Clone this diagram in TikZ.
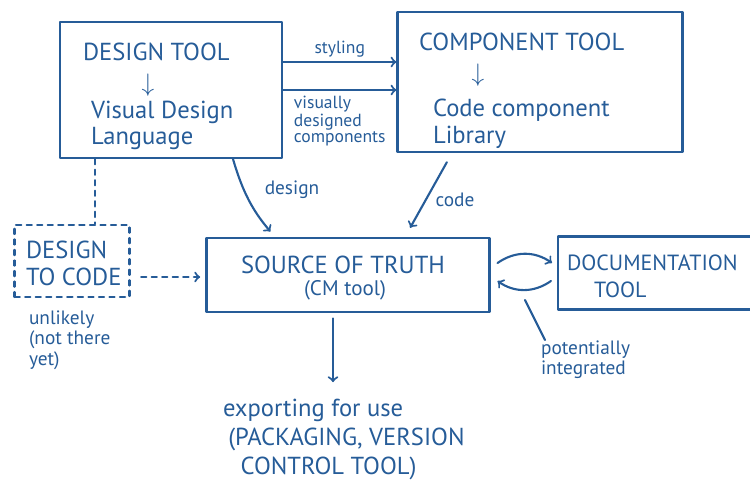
\documentclass[tikz,border=0pt]{standalone}
\usepackage{fontspec}
\setmainfont{PT Sans}
\usetikzlibrary{positioning}
\definecolor{ink}{RGB}{38,92,152}
\begin{document}
\begin{tikzpicture}[x=0.02cm, y=-0.02cm, line join=round, line cap=round, >=to, color=ink, very thick,
		font=\fontsize{14}{16}\selectfont,
		box/.style={draw, inner sep=0pt},
		txt/.style={anchor=west, inner sep=0pt},
		note/.style={font=\fontsize{10}{9}\selectfont, align=left, inner sep=0pt}]
	\useasboundingbox (0,0) rectangle (750,487);
	% boxes
	\node[box, minimum width=4.44cm, minimum height=2.72cm] (design) at (171,90) {};
	\node[box, minimum width=5.7cm, minimum height=2.8cm] (comp) at (540,82) {};
	\node[box, minimum width=5.66cm, minimum height=1.48cm] (source) at (348,275) {};
	\node[box, minimum width=3.94cm, minimum height=1.46cm] (doc) at (656.5,273) {};
	\node[box, dashed, minimum width=2.3cm, minimum height=1.44cm] (dtc) at (72,261) {};
	% texts in the boxes
	\node[txt] (dt) at (82,52) {DESIGN TOOL};
	\node[inner sep=0pt] (da) at (148,85) {$\downarrow$};
	\node[txt] (vdl) at (90,112) {Visual Design};
	\node[txt] (lang) at (90,138) {Language};
	\node[txt] (ct) at (418,42) {COMPONENT TOOL};
	\node[inner sep=0pt] (ca) at (478,75) {$\downarrow$};
	\node[txt] (ccl) at (432,110) {Code component};
	\node[txt] (lib) at (432,137) {Library};
	\node (sot) at (343,265) {SOURCE OF TRUTH};
	\node[font=\fontsize{12}{14}\selectfont] (cm) at (345,290) {(CM tool)};
	\node[txt, font=\fontsize{12.5}{14}\selectfont] (dct) at (566,263) {DOCUMENTATION};
	\node[txt, font=\fontsize{12.5}{14}\selectfont] (tl) at (593,290) {TOOL};
	\node[txt] (d2c) at (25,250) {DESIGN};
	\node[txt] (d2c2) at (25,277) {TO CODE};
	\node[note, anchor=north west, font=\fontsize{11}{11.5}\selectfont] (unl) at (28,310) {unlikely\\(not there\\yet)};
	\node[anchor=north west, align=left, inner sep=0pt, font=\fontsize{14}{16.5}\selectfont] (export) at (222,398)
		{exporting for use\\\hspace{3pt}(PACKAGING, VERSION\\\hspace{10pt}CONTROL TOOL)};
	\node[note, anchor=north west, font=\fontsize{11}{11}\selectfont] (pot) at (540,340) {potentially\\integrated};
	% connectors
	\draw[->] (design.east |- 0,62) -- (comp.west |- 0,62) node[midway, above=2pt, note]{styling};
	\draw[->] (design.east |- 0,90) -- (comp.west |- 0,90) node[midway, below=3pt, note]{visually\\designed\\components};
	\draw[->, shorten >=4pt] (design.south -| 233,0) to[bend right=12] (source.north -| 275,0);
	\node[font=\fontsize{11}{12}\selectfont] (dlab) at (292,190) {design};
	\draw[->, shorten >=6pt, shorten <=6pt] (comp.south -| 452,0) -- (source.north -| 405,0);
	\node[font=\fontsize{11}{12}\selectfont] (clab) at (455,200) {code};
	\draw[dashed] (design.south -| 95,0) -- (dtc.north -| 95,0);
	\draw[->, dashed, shorten <=6pt, shorten >=3pt] (dtc.east |- 0,277) -- (source.west |- 0,277);
	\draw[->, shorten <=3pt, shorten >=9pt] (source.south -| 333,0) -- (export.north -| 333,0);
	\draw[->] ([shift={(7,-12)}]source.east) to[bend left=35] ([shift={(-5,-10)}]doc.west);
	\draw[->] ([shift={(-6,8)}]doc.west) to[bend left=35] ([shift={(7,6)}]source.east);
	\draw (525,300) -- (pot.north west -| 545,0);
\end{tikzpicture}
\end{document}
